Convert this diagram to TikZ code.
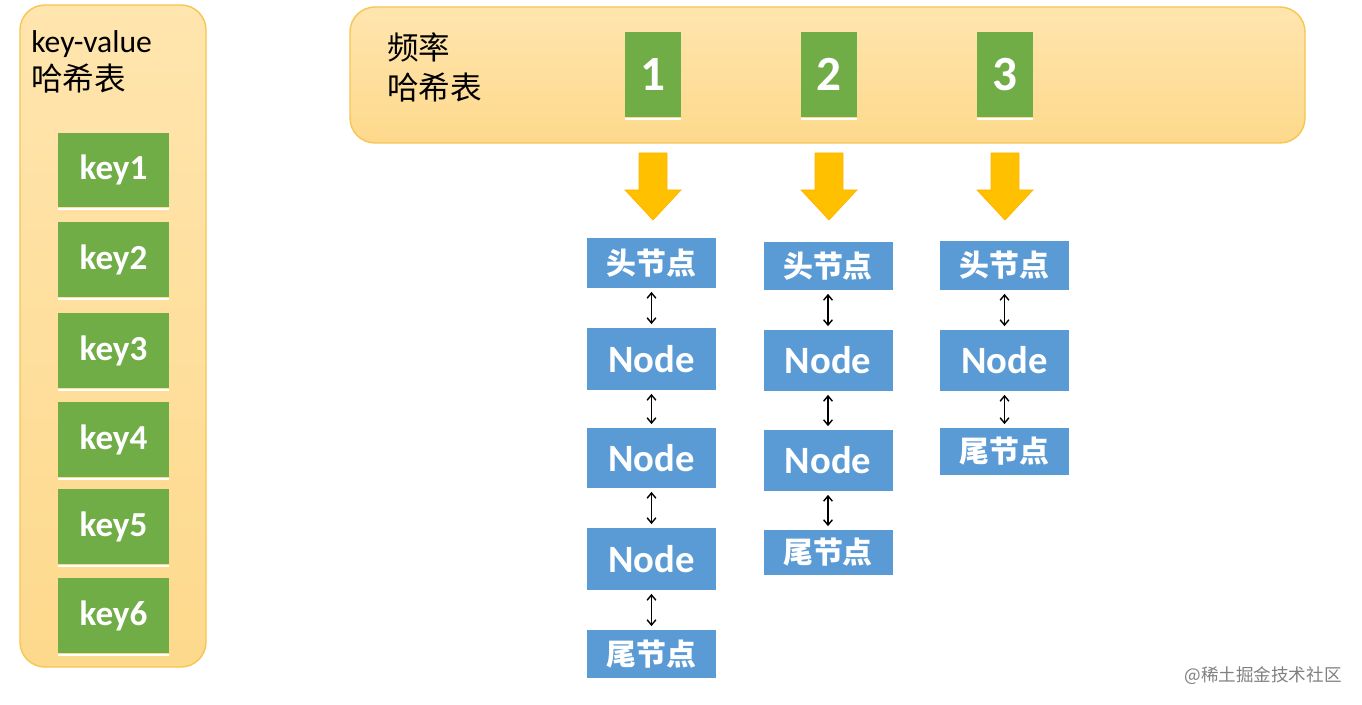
\documentclass[tikz,border=0pt]{standalone}
\usepackage{fontspec}
\setmainfont{Carlito}
\newfontfamily\cjk{Noto Sans CJK SC}
\newfontfamily\cjkb{Noto Sans CJK SC}[FakeBold=0]
\usetikzlibrary{arrows.meta}
\definecolor{pfill}{HTML}{FDD98C}
\definecolor{ptop}{HTML}{FFE5AE}
\definecolor{pbord}{HTML}{F7C552}
\definecolor{kgreen}{HTML}{70AD47}
\definecolor{nblue}{HTML}{5B9BD5}
\definecolor{aor}{HTML}{FFC000}
\begin{document}
\begin{tikzpicture}[x=0.02cm,y=-0.02cm,
 panel/.style={draw=pbord,line width=0.8pt,rounded corners=0.5cm,top color=ptop,bottom color=pfill},
 key/.style={fill=kgreen,text=white,font=\fontsize{20}{20}\selectfont\bfseries,inner sep=0pt},
 num/.style={fill=kgreen,text=white,font=\fontsize{28}{28}\selectfont\bfseries,inner sep=0pt},
 bnode/.style={fill=nblue,text=white,font=\fontsize{22}{22}\selectfont\bfseries,inner sep=0pt},
 cnode/.style={fill=nblue,text=white,font=\fontsize{17}{17}\selectfont\cjk\bfseries,inner sep=0pt},
 link/.style={{Straight Barb[length=3pt,width=5pt]}-{Straight Barb[length=3pt,width=5pt]},line width=0.8pt,shorten <=6pt,shorten >=6pt},
 bigarrow/.style={fill=aor,draw=aor!80!orange,line width=0.4pt}]
\useasboundingbox (0,0) rectangle (1362,705);
% panels
\draw[panel] (20,5) rectangle (206,667);
\draw[panel] (350,7) rectangle (1305,143);
\node[anchor=north west,align=left,inner sep=0pt,font=\fontsize{18}{22}\selectfont] (kvt) at (31,30) {key-value\\{\cjk 哈希表}};
\node[anchor=north west,align=left,inner sep=0pt,font=\fontsize{18}{23}\selectfont\cjk] (frt) at (387,32) {频率\\哈希表};
% keys
\foreach \i/\a/\b in {1/133/207,2/222/297,3/313/388,4/402/477,5/489/564,6/578/653}{
  \node[key,minimum width=111*0.02cm,minimum height={(\b-\a)*0.02cm}] (k\i) at (113.5,{(\a+\b)/2}) {key\i};
  \draw[white,line width=1.2pt] (58,\b+2) -- (169,\b+2);
}
% numbers
\foreach \i/\x in {1/653,2/829,3/1005}{
  \node[num,minimum width=56*0.02cm,minimum height=85*0.02cm] (n\i) at (\x,74.5) {\i};
  \draw[white,line width=1.2pt] (\x-28,119) -- (\x+28,119);
  \draw[bigarrow] (\x-14,153) -- (\x+14,153) -- (\x+14,190) -- (\x+28,190) -- (\x,220) -- (\x-28,190) -- (\x-14,190) -- cycle;
}
% column 1
\tikzset{w/.style={minimum width=129*0.02cm}}
\node[cnode,w,minimum height=50*0.02cm] (a0) at (651.5,263) {头节点};
\node[bnode,w,minimum height=62*0.02cm] (a1) at (651.5,359) {Node};
\node[bnode,w,minimum height=60*0.02cm] (a2) at (651.5,458) {Node};
\node[bnode,w,minimum height=62*0.02cm] (a3) at (651.5,559) {Node};
\node[cnode,w,minimum height=48*0.02cm] (a4) at (651.5,654) {尾节点};
% column 2
\node[cnode,w,minimum height=48*0.02cm] (b0) at (828,266) {头节点};
\node[bnode,w,minimum height=61*0.02cm] (b1) at (828,360.5) {Node};
\node[bnode,w,minimum height=61*0.02cm] (b2) at (828,460.5) {Node};
\node[cnode,w,minimum height=45*0.02cm] (b3) at (828,552.5) {尾节点};
% column 3
\node[cnode,w,minimum height=49*0.02cm] (c0) at (1004.5,265.5) {头节点};
\node[bnode,w,minimum height=61*0.02cm] (c1) at (1004.5,360.5) {Node};
\node[cnode,w,minimum height=47*0.02cm] (c2) at (1004.5,451.5) {尾节点};
% links
\foreach \p/\q in {a0/a1,a1/a2,a2/a3,a3/a4,b0/b1,b1/b2,b2/b3,c0/c1,c1/c2}
  \draw[link,shorten <=2pt,shorten >=2pt] (\p.south) -- (\q.north);
% watermark
\node[anchor=east,text=gray,font=\fontsize{10}{10}\selectfont\cjk,inner sep=0pt] (wm) at (1342,676) {@稀土掘金技术社区};
\end{tikzpicture}
\end{document}
